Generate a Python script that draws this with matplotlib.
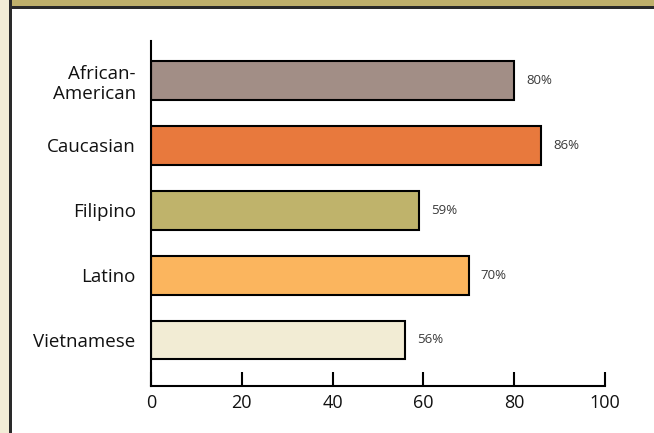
import matplotlib
matplotlib.use("Agg")
import matplotlib.pyplot as plt
from matplotlib.patches import Rectangle

groups = ['African-\nAmerican', 'Caucasian', 'Filipino', 'Latino', 'Vietnamese']
rates = [80, 86, 59, 70, 56]
bar_colors = ['#A28E86', '#E8793D', '#BFB36B', '#FBB55E', '#F2ECD4']
xticks = [0, 20, 40, 60, 80, 100]

plt.rcParams['font.family'] = ['Open Sans', 'DejaVu Sans']

fig = plt.figure(figsize=(6.54, 4.33), dpi=100)
fig.patch.set_facecolor('white')

# frame: cream strip on the left, olive band on top
W, H = 654.0, 433.0
fig.patches.append(Rectangle((0, 0), 9 / W, 1, transform=fig.transFigure,
                             facecolor='#F2ECD6', edgecolor='none', zorder=0))
fig.patches.append(Rectangle((11 / W, 1 - 6 / H), 1, 6 / H, transform=fig.transFigure,
                             facecolor='#BFB06B', edgecolor='none', zorder=0))
fig.patches.append(Rectangle((9 / W, 1 - 9 / H), 1, 3 / H, transform=fig.transFigure,
                             facecolor='#2a2a2a', edgecolor='none', zorder=1))
fig.patches.append(Rectangle((9 / W, 0), 3 / W, 1, transform=fig.transFigure,
                             facecolor='#2a2a2a', edgecolor='none', zorder=1))

ax = fig.add_axes([151 / W, 1 - 386 / H, 454 / W, 345 / H])
ypos = list(range(len(groups)))
ax.barh(ypos, rates, height=0.6, color=bar_colors, edgecolor='black', linewidth=1.5)

for y, v in zip(ypos, rates):
    ax.text(v + 2.6, y, f'{v}%', va='center', ha='left', fontsize=9.5, color='#3a3a3a')

ax.set_xlim(0, 100)
ax.set_ylim(4.71, -0.61)
ax.set_yticks(ypos)
ax.set_yticklabels(groups, fontsize=13.5, linespacing=1.15, color='#111111')
ax.set_xticks(xticks)
ax.set_xticklabels([str(t) for t in xticks], fontsize=13, color='#111111')
ax.tick_params(axis='x', direction='in', length=10, width=1.5, pad=6)
ax.tick_params(axis='y', length=0, pad=11)
for s in ['top', 'right']:
    ax.spines[s].set_visible(False)
for s in ['left', 'bottom']:
    ax.spines[s].set_linewidth(1.5)

fig.savefig('out.png', dpi=100)
